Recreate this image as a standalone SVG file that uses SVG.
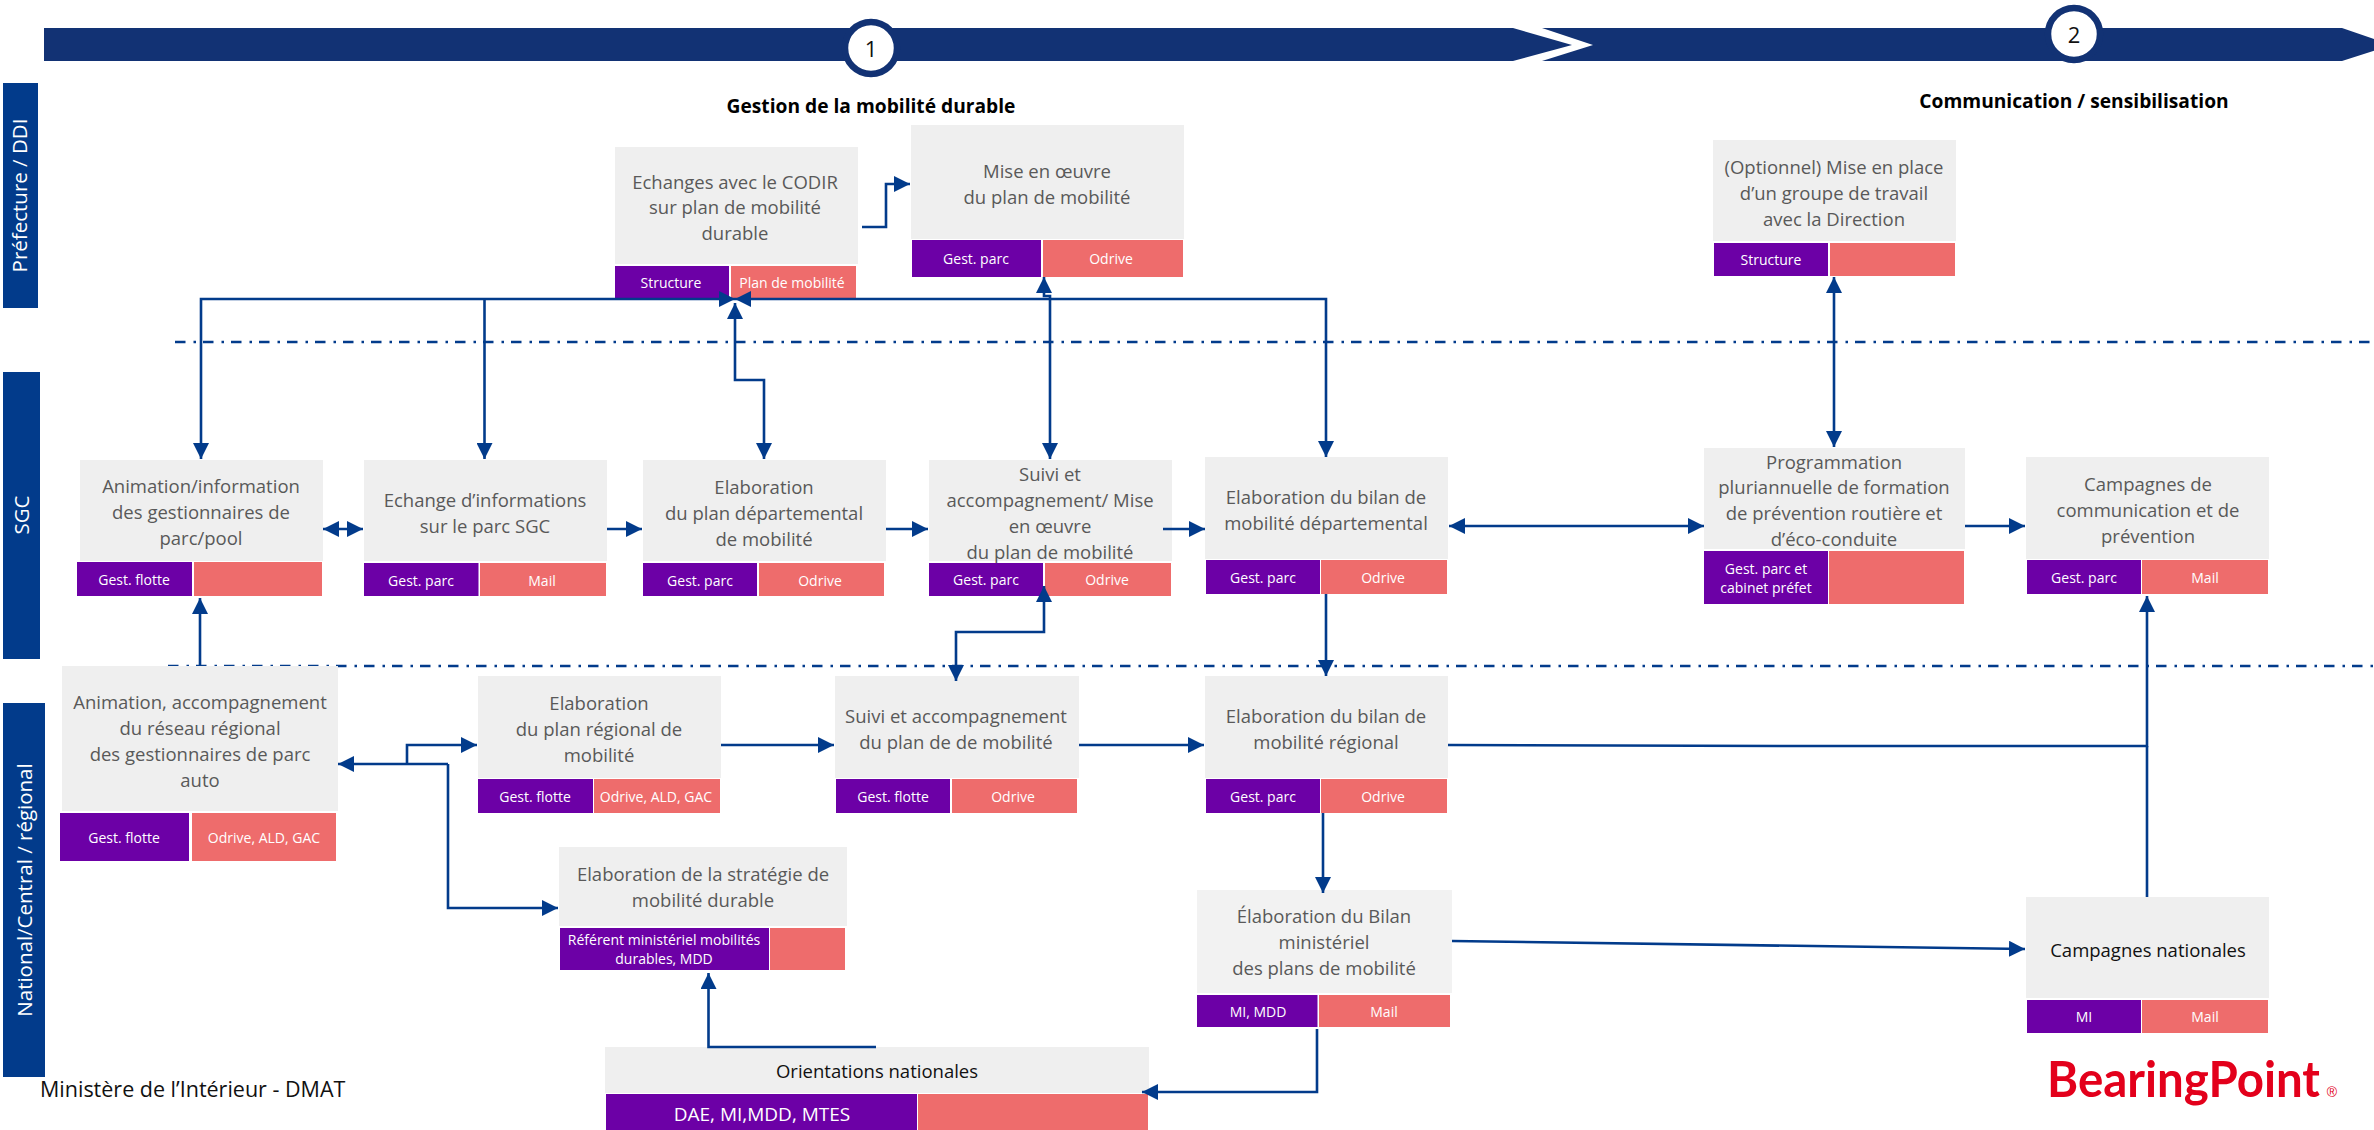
<svg xmlns="http://www.w3.org/2000/svg" width="2374" height="1130" viewBox="0 0 2374 1130">
<style>
text{font-family:"Open Sans","Noto Sans","Liberation Sans",sans-serif}
.g{fill:#efefef}
.p{fill:#6c00a6}
.c{fill:#ee6c6c}
.t{font-size:18.5px;fill:#595959;text-anchor:middle}
.d{font-size:18.5px;fill:#111;text-anchor:middle}
.s{font-size:14px;fill:#fff;text-anchor:middle}
.h{font-size:19.2px;font-weight:700;fill:#000;text-anchor:middle}
.l{font-size:20.5px;fill:#fff;text-anchor:middle}
.n{font-size:22px;fill:#111;text-anchor:middle}
.lane{fill:#023b8b}
.ln{fill:none;stroke:#023b8b;stroke-width:2.6}
.a{marker-end:url(#ah)}
.b{marker-start:url(#ah);marker-end:url(#ah)}
.dd{fill:none;stroke:#023b8b;stroke-width:2.6;stroke-dasharray:10.500 8 2.500 7}
</style>
<defs>
<marker id="ah" markerUnits="userSpaceOnUse" markerWidth="16" markerHeight="16" viewBox="0 0 16 16" refX="16" refY="8" orient="auto-start-reverse"><path d="M0 0L16 8L0 16Z" fill="#023b8b"/></marker>
</defs>
<rect width="2374" height="1130" fill="#fff"/>
<g id="banner">
<polygon points="44,28 1513,28 1572,45 1513,61 44,61" fill="#123274"/>
<polygon points="1542,28 2342,28 2392,45 2342,61 1542,61 1593,45" fill="#123274"/>
<circle cx="871" cy="48" r="26" fill="#fff" stroke="#123274" stroke-width="6.500"/>
<circle cx="2074" cy="34" r="26" fill="#fff" stroke="#123274" stroke-width="6.500"/>
<text x="871" y="57" class="n">1</text>
<text x="2074" y="43" class="n">2</text>
<text x="871" y="113" class="h">Gestion de la mobilité durable</text>
<text x="2074" y="108" class="h">Communication / sensibilisation</text>
</g>
<g id="lanes">
<rect x="3" y="83" width="35" height="225" class="lane"/>
<text transform="translate(27 195.500) rotate(-90)" class="l">Préfecture / DDI</text>
<rect x="3" y="372" width="37" height="287" class="lane"/>
<text transform="translate(29 515) rotate(-90)" class="l">SGC</text>
<rect x="3" y="703" width="42" height="374" class="lane"/>
<text transform="translate(32 890) rotate(-90)" class="l">National/Central / régional</text>
<path class="dd" d="M175 342H2374"/>
<path class="dd" d="M168 666H2374"/>
</g>

<g id="n-codir"><rect x="615" y="147" width="243" height="117" class="g"/>
<text x="735" y="189" class="t">Echanges avec le CODIR</text><text x="735" y="214" class="t">sur plan de mobilité</text><text x="735" y="240" class="t">durable</text>
<rect x="615" y="266" width="114" height="32" class="p"/><rect x="731" y="266" width="125" height="32" class="c"/>
<text x="671" y="288" class="s">Structure</text><text x="792" y="288" class="s">Plan de mobilité</text></g>

<g id="n-mise"><rect x="911" y="125" width="273" height="114" class="g"/>
<text x="1047" y="178" class="t">Mise en œuvre</text><text x="1047" y="204" class="t">du plan de mobilité</text>
<rect x="912" y="240" width="129" height="37" class="p"/><rect x="1043" y="240" width="140" height="37" class="c"/>
<text x="976" y="264" class="s">Gest. parc</text><text x="1111" y="264" class="s">Odrive</text></g>

<g id="n-optionnel"><rect x="1713" y="140" width="243" height="101" class="g"/>
<text x="1834" y="174" class="t">(Optionnel) Mise en place</text><text x="1834" y="200" class="t">d’un groupe de travail</text><text x="1834" y="226" class="t">avec la Direction</text>
<rect x="1714" y="243" width="114" height="33" class="p"/><rect x="1830" y="243" width="125" height="33" class="c"/>
<text x="1771" y="265" class="s">Structure</text></g>

<g id="n-animinfo"><rect x="80" y="460" width="243" height="101" class="g"/>
<text x="201" y="493" class="t">Animation/information</text><text x="201" y="519" class="t">des gestionnaires de</text><text x="201" y="545" class="t">parc/pool</text>
<rect x="77" y="562" width="115" height="34" class="p"/><rect x="194" y="562" width="128" height="34" class="c"/>
<text x="134" y="585" class="s">Gest. flotte</text></g>

<g id="n-echange"><rect x="364" y="460" width="243" height="101" class="g"/>
<text x="485" y="507" class="t">Echange d’informations</text><text x="485" y="533" class="t">sur le parc SGC</text>
<rect x="364" y="563" width="114.500" height="33" class="p"/><rect x="480" y="563" width="126" height="33" class="c"/>
<text x="421" y="586" class="s">Gest. parc</text><text x="542" y="586" class="s">Mail</text></g>

<g id="n-plandep"><rect x="643" y="460" width="243" height="101" class="g"/>
<text x="764" y="494" class="t">Elaboration</text><text x="764" y="520" class="t">du plan départemental</text><text x="764" y="546" class="t">de mobilité</text>
<rect x="643" y="563" width="114" height="33" class="p"/><rect x="759" y="563" width="125" height="33" class="c"/>
<text x="700" y="586" class="s">Gest. parc</text><text x="820" y="586" class="s">Odrive</text></g>

<g id="n-suivi-sgc"><rect x="929" y="460" width="243" height="101" class="g"/>
<text x="1050" y="481" class="t">Suivi et</text><text x="1050" y="507" class="t">accompagnement/ Mise</text><text x="1050" y="533" class="t">en œuvre</text><text x="1050" y="559" class="t">du plan de mobilité</text>
<rect x="929" y="563" width="114" height="33" class="p"/><rect x="1045" y="563" width="126" height="33" class="c"/>
<text x="986" y="585" class="s">Gest. parc</text><text x="1107" y="585" class="s">Odrive</text></g>

<g id="n-bilandep"><rect x="1205" y="457" width="243" height="102" class="g"/>
<text x="1326" y="504" class="t">Elaboration du bilan de</text><text x="1326" y="530" class="t">mobilité départemental</text>
<rect x="1206" y="560" width="114" height="34" class="p"/><rect x="1321" y="560" width="126" height="34" class="c"/>
<text x="1263" y="583" class="s">Gest. parc</text><text x="1383" y="583" class="s">Odrive</text></g>

<g id="n-prog"><rect x="1704" y="448" width="261" height="101" class="g"/>
<text x="1834" y="469" class="t">Programmation</text><text x="1834" y="494" class="t">pluriannuelle de formation</text><text x="1834" y="520" class="t">de prévention routière  et</text><text x="1834" y="546" class="t">d’éco-conduite</text>
<rect x="1704" y="551" width="124" height="53" class="p"/><rect x="1829" y="551" width="135" height="53" class="c"/>
<text x="1766" y="574" class="s">Gest. parc et</text><text x="1766" y="593" class="s">cabinet préfet</text></g>

<g id="n-campagnes"><rect x="2026" y="457" width="243" height="102" class="g"/>
<text x="2148" y="491" class="t">Campagnes de</text><text x="2148" y="517" class="t">communication et de</text><text x="2148" y="543" class="t">prévention</text>
<rect x="2027" y="560" width="114" height="34" class="p"/><rect x="2142" y="560" width="126" height="34" class="c"/>
<text x="2084" y="583" class="s">Gest. parc</text><text x="2205" y="583" class="s">Mail</text></g>

<g id="n-animreseau"><rect x="62" y="666" width="276" height="145" class="g"/>
<text x="200" y="709" class="t">Animation, accompagnement</text><text x="200" y="735" class="t">du réseau régional</text><text x="200" y="761" class="t">des gestionnaires de parc</text><text x="200" y="787" class="t">auto</text>
<rect x="60" y="813" width="129" height="48" class="p"/><rect x="192" y="813" width="144" height="48" class="c"/>
<text x="124" y="843" class="s">Gest. flotte</text><text x="264" y="843" class="s">Odrive, ALD, GAC</text></g>

<g id="n-planreg"><rect x="478" y="676" width="243" height="102" class="g"/>
<text x="599" y="710" class="t">Elaboration</text><text x="599" y="736" class="t">du plan régional de</text><text x="599" y="762" class="t">mobilité</text>
<rect x="478" y="779" width="115" height="34" class="p"/><rect x="594" y="779" width="126" height="34" class="c"/>
<text x="535" y="802" class="s">Gest. flotte</text><text x="656" y="802" class="s">Odrive, ALD, GAC</text></g>

<g id="n-suivi-reg"><rect x="835" y="676" width="244" height="102" class="g"/>
<text x="956" y="723" class="t">Suivi et accompagnement</text><text x="956" y="749" class="t">du plan de de mobilité</text>
<rect x="836" y="779" width="114" height="34" class="p"/><rect x="952" y="779" width="125" height="34" class="c"/>
<text x="893" y="802" class="s">Gest. flotte</text><text x="1013" y="802" class="s">Odrive</text></g>

<g id="n-bilanreg"><rect x="1205" y="676" width="243" height="102" class="g"/>
<text x="1326" y="723" class="t">Elaboration du bilan de</text><text x="1326" y="749" class="t">mobilité régional</text>
<rect x="1206" y="779" width="114" height="34" class="p"/><rect x="1321" y="779" width="126" height="34" class="c"/>
<text x="1263" y="802" class="s">Gest. parc</text><text x="1383" y="802" class="s">Odrive</text></g>

<g id="n-strategie"><rect x="559" y="847" width="288" height="79" class="g"/>
<text x="703" y="881" class="t">Elaboration de la stratégie de</text><text x="703" y="907" class="t">mobilité durable</text>
<rect x="560" y="928" width="209" height="42" class="p"/><rect x="770" y="928" width="75" height="42" class="c"/>
<text x="664" y="945" class="s">Référent ministériel mobilités</text><text x="664" y="964" class="s">durables, MDD</text></g>

<g id="n-bilanmin"><rect x="1197" y="890" width="255" height="103" class="g" style="fill:#f2f2f2"/>
<text x="1324" y="923" class="t">Élaboration du Bilan</text><text x="1324" y="949" class="t">ministériel</text><text x="1324" y="975" class="t">des plans de mobilité</text>
<rect x="1197" y="995" width="120.500" height="32" class="p"/><rect x="1319" y="995" width="131" height="32" class="c"/>
<text x="1258" y="1017" class="s">MI, MDD</text><text x="1384" y="1017" class="s">Mail</text></g>

<g id="n-campnat"><rect x="2026" y="897" width="243" height="101" class="g"/>
<text x="2148" y="957" class="d">Campagnes nationales</text>
<rect x="2027" y="1000" width="114" height="33" class="p"/><rect x="2142" y="1000" width="126" height="33" class="c"/>
<text x="2084" y="1022" class="s">MI</text><text x="2205" y="1022" class="s">Mail</text></g>

<g id="n-orient"><rect x="605" y="1047" width="544" height="46" class="g"/>
<text x="877" y="1078" class="d">Orientations nationales</text>
<rect x="606" y="1094" width="311" height="36" class="p"/><rect x="918" y="1094" width="230" height="36" class="c"/>
<text x="762" y="1121" class="d" style="fill:#fff;font-size:19px">DAE, MI,MDD, MTES</text></g>

<g id="connectors">
<path class="ln b" d="M201 459V299H735"/>
<path class="ln b" d="M1326 457V299H735"/>
<path class="ln a" d="M484.500 299V459"/>
<path class="ln b" d="M735 303V380H764V459"/>
<path class="ln b" d="M1044 277V296H1050V459"/>
<path class="ln a" d="M862 227H886V184H910"/>
<path class="ln b" d="M323 529H363"/>
<path class="ln a" d="M607 529H642"/>
<path class="ln a" d="M886 529H928"/>
<path class="ln a" d="M1163 529H1205"/>
<path class="ln b" d="M1449 526H1704"/>
<path class="ln a" d="M1965 526H2025"/>
<path class="ln b" d="M1044 586V632H956V681"/>
<path class="ln a" d="M1326 594V676"/>
<path class="ln a" d="M200 666V598"/>
<path class="ln a" d="M721 745H834"/>
<path class="ln a" d="M1079 745H1204"/>
<path class="ln a" d="M1448 745L1800 746H2147V596"/>
<path class="ln" d="M2147 746V897"/>
<path class="ln a" d="M448 764H338"/>
<path class="ln a" d="M407 764V745H477"/>
<path class="ln a" d="M448 764V908H558"/>
<path class="ln a" d="M1323 813V893"/>
<path class="ln a" d="M1452 941L2025 949"/>
<path class="ln a" d="M1317 1029V1092H1142"/>
<path class="ln a" d="M876 1047H708.500V973"/>
<path class="ln b" d="M1834 277V447"/>
</g>

<g id="footer">
<text x="40" y="1097" font-size="21.500" fill="#111">Ministère de l’Intérieur - DMAT</text>
<text x="2047" y="1097" font-size="49" font-weight="700" fill="#e3001b" textLength="273" lengthAdjust="spacingAndGlyphs" style="font-family:Lato,'Liberation Sans',sans-serif">BearingPoint</text>
<text x="2332" y="1097" font-size="14" fill="#e3001b" text-anchor="middle" style="font-family:'Liberation Sans',sans-serif">®</text>
</g>
</svg>
